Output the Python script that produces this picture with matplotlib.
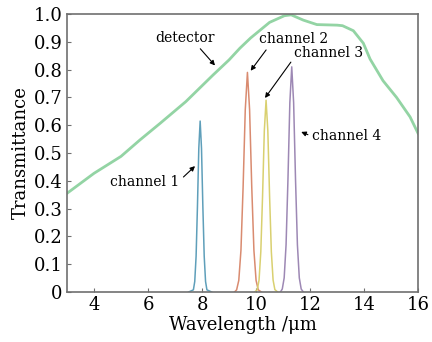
import matplotlib
matplotlib.use('Agg')
import matplotlib.pyplot as plt

plt.rcParams['font.family'] = ['DejaVu Serif']

# detector response
det_wl = [3.0, 4.0, 5.0, 5.7, 6.45, 7.4, 8.4, 9.0, 9.4, 9.8, 10.5, 11.05, 11.3,
          11.75, 12.25, 13.0, 13.2, 13.6, 13.97, 14.22, 14.7, 15.2, 15.7, 16.0]
det_t = [0.355, 0.427, 0.488, 0.547, 0.607, 0.685, 0.78, 0.835, 0.877, 0.914, 0.97,
         0.994, 0.997, 0.978, 0.962, 0.96, 0.958, 0.94, 0.895, 0.838, 0.76, 0.70, 0.63, 0.57]

# filter channels
ch1_wl = [7.50, 7.68, 7.73, 7.78, 7.83, 7.88, 7.93, 7.98, 8.03, 8.08, 8.13, 8.18, 8.36]
ch1_t = [0, 0.008, 0.038, 0.129, 0.308, 0.517, 0.615, 0.517, 0.308, 0.129, 0.038, 0.008, 0]

ch2_wl = [9.20, 9.28, 9.36, 9.44, 9.52, 9.60, 9.68, 9.76, 9.84, 9.92, 10.0, 10.08, 10.20]
ch2_t = [0, 0.008, 0.042, 0.15, 0.378, 0.656, 0.79, 0.656, 0.378, 0.15, 0.042, 0.008, 0]

ch3_wl = [9.95, 10.045, 10.11, 10.175, 10.24, 10.305, 10.37, 10.435, 10.5, 10.565, 10.63, 10.695, 10.80]
ch3_t = [0, 0.009, 0.043, 0.145, 0.345, 0.58, 0.69, 0.58, 0.345, 0.145, 0.043, 0.009, 0]

ch4_wl = [10.90, 10.97, 11.04, 11.11, 11.18, 11.25, 11.32, 11.39, 11.46, 11.53, 11.60, 11.67, 11.75]
ch4_t = [0, 0.011, 0.051, 0.17, 0.405, 0.681, 0.81, 0.681, 0.405, 0.17, 0.051, 0.011, 0]

x_ticks = [4, 6, 8, 10, 12, 14, 16]
y_ticks = [0, 0.1, 0.2, 0.3, 0.4, 0.5, 0.6, 0.7, 0.8, 0.9, 1.0]
y_labels = ['0', '0.1', '0.2', '0.3', '0.4', '0.5', '0.6', '0.7', '0.8', '0.9', '1.0']

fig = plt.figure(figsize=(4.32, 3.42), dpi=100)
ax = fig.add_axes([0.155, 0.146, 0.813, 0.813])

ax.plot(det_wl, det_t, color='#93d4a4', lw=2.0)
ax.plot(ch1_wl, ch1_t, color='#5f9fba', lw=1.1)
ax.plot(ch2_wl, ch2_t, color='#d98b70', lw=1.1)
ax.plot(ch3_wl, ch3_t, color='#d9d070', lw=1.1)
ax.plot(ch4_wl, ch4_t, color='#9d88b4', lw=1.1)

ax.set_xlim(3, 16)
ax.set_ylim(0, 1.0)
ax.set_xticks(x_ticks)
ax.set_yticks(y_ticks)
ax.set_yticklabels(y_labels)
ax.tick_params(direction='in', length=3, color='#707070', labelsize=13, pad=3)
for s in ax.spines.values():
    s.set_color('#707070')
    s.set_linewidth(1.2)

ax.set_xlabel('Wavelength /\u03bcm', fontsize=13, labelpad=1)
ax.set_ylabel('Transmittance', fontsize=13, labelpad=3)

def arrow(rel):
    return dict(arrowstyle='-|>', color='k', lw=0.8, mutation_scale=7,
                shrinkA=1, shrinkB=0, relpos=rel)

fs = 10
ax.annotate('detector', xy=(8.48, 0.815), xytext=(7.37, 0.914), fontsize=fs,
            ha='center', va='center', arrowprops=arrow((0.7, 0)))
ax.annotate('channel 1', xy=(7.74, 0.453), xytext=(5.89, 0.396), fontsize=fs,
            ha='center', va='center', arrowprops=arrow((1.0, 0.6)))
ax.annotate('channel 2', xy=(9.80, 0.796), xytext=(11.4, 0.91), fontsize=fs,
            ha='center', va='center', arrowprops=arrow((0.14, 0)))
ax.annotate('channel 3', xy=(10.33, 0.698), xytext=(12.7, 0.86), fontsize=fs,
            ha='center', va='center', arrowprops=arrow((0, 0.2)))
ax.annotate('channel 4', xy=(11.67, 0.576), xytext=(13.35, 0.56), fontsize=fs,
            ha='center', va='center', arrowprops=arrow((0, 0.5)))

fig.savefig('out.png', dpi=100)
